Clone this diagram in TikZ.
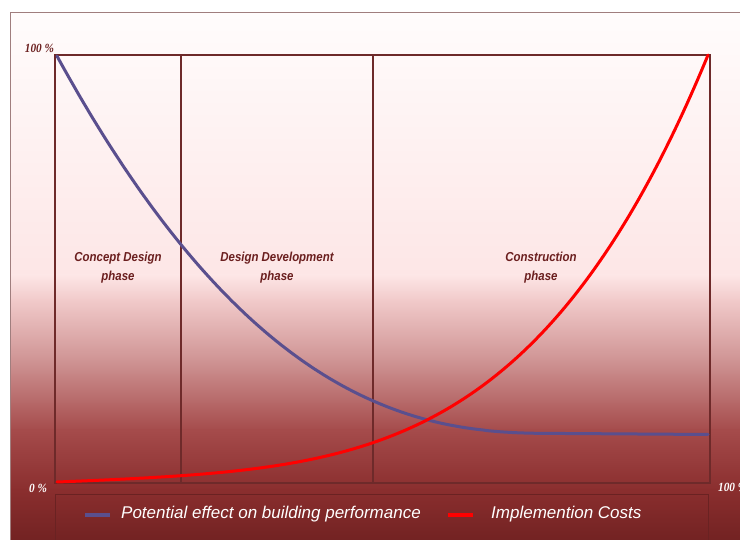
\documentclass[tikz,border=0pt]{standalone}
\usepackage{fontspec}
\setmainfont{Liberation Sans}
\newfontfamily\phasefont[FakeStretch=0.88]{Liberation Sans}
\newfontfamily\legfont{Liberation Sans}
\newfontfamily\axfont[FakeStretch=0.9]{Liberation Serif}
\definecolor{frameline}{HTML}{6E2A2A}
\definecolor{outerline}{HTML}{A07E7E}
\definecolor{labelred}{HTML}{6B1F1F}
\definecolor{perfblue}{HTML}{5A4F8E}
\definecolor{costred}{HTML}{FF0000}
\definecolor{gA}{HTML}{FFFCFC}
\definecolor{gB}{HTML}{FDE6E6}
\definecolor{gC}{HTML}{F1CACA}
\definecolor{gD}{HTML}{CF9494}
\definecolor{gE}{HTML}{A54B4B}
\definecolor{gF}{HTML}{8A2E2E}
\definecolor{gG}{HTML}{6E2020}
\definecolor{legline}{HTML}{6A2222}
\tikzset{
  band/.style={draw=none, shading=axis},
  phaselabel/.style={font=\phasefont\bfseries\itshape\fontsize{13}{19}\selectfont, text=labelred, align=center, inner sep=0pt},
  axlabel/.style={font=\axfont\bfseries\itshape\fontsize{12.5}{14}\selectfont, inner sep=0pt},
  legtext/.style={font=\legfont\itshape\fontsize{17}{20}\selectfont, text=white, anchor=west, inner sep=0pt},
  curve/.style={line width=3pt, line cap=round, line join=round},
  divider/.style={draw=frameline, line width=1.4pt},
  declare function={
    tt(\x)=(\x-57)/651;
    redY(\x)=58+427*(0.06*tt(\x)+0.06*tt(\x)^2+0.88*tt(\x)^4);
    blueY(\x)=105.5+4.5*(1-tt(\x))+374*(max(0.0001,1-tt(\x)/0.75))^2.38;
  }
}
\begin{document}
\begin{tikzpicture}[x=1pt,y=1pt]
\useasboundingbox (0,0) rectangle (740,540);
\clip (0,0) rectangle (740,540);
\fill[white] (0,0) rectangle (740,540);
% background gradient bands (ref y -> Y = 540 - y)
\shade[band, top color=gA, bottom color=gB] (10,527) rectangle (750,264.5);
\shade[band, top color=gB, bottom color=gC] (10,265) rectangle (750,239.5);
\shade[band, top color=gC, bottom color=gD] (10,240) rectangle (750,179.5);
\shade[band, top color=gD, bottom color=gE] (10,180) rectangle (750,109.5);
\shade[band, top color=gE, bottom color=gF] (10,110) rectangle (750,49.5);
\shade[band, top color=gF, bottom color=gG] (10,50) rectangle (750,-10);
\draw[outerline, line width=1pt] (10,-10) rectangle (760,527);
% plot frame and phase dividers
\coordinate (pbl) at (55,57);
\coordinate (ptr) at (710,485);
\draw[divider] (pbl) rectangle (ptr);
\coordinate (d1b) at (181,57);
\coordinate (d1t) at (181,485);
\coordinate (d2b) at (373,57);
\coordinate (d2t) at (373,485);
\draw[divider] (d1b) -- (d1t);
\draw[divider] (d2b) -- (d2t);
% curves
\draw[curve, perfblue] plot[domain=57:708, samples=160, smooth] (\x, {blueY(\x)});
\draw[curve, costred] plot[domain=57:708, samples=160, smooth] (\x, {redY(\x)});
% phase labels
\node[phaselabel] (concept) at (118,272.5) {Concept Design\\phase};
\node[phaselabel] (develop) at (277,272.5) {Design Development\\phase};
\node[phaselabel] (constr) at (541,272.5) {Construction\\phase};
% axis labels
\node[axlabel, text=labelred] (top) at (39.5,492) {100 \%};
\node[axlabel, text=white] (zero) at (38,52) {0 \%};
\node[axlabel, text=white, anchor=west] (right) at (718,53) {100 \%};
% legend
\draw[legline, line width=1pt] (55,45) rectangle (708,-5);
\coordinate (lb1) at (85,25);
\coordinate (lb2) at (110,25);
\draw[perfblue, line width=4pt] (lb1) -- (lb2);
\node[legtext] (legperf) at (121,26) {Potential effect on building performance};
\coordinate (lr1) at (448,25);
\coordinate (lr2) at (473,25);
\draw[costred, line width=4pt] (lr1) -- (lr2);
\node[legtext] (legcost) at (491,26) {Implemention Costs};
\end{tikzpicture}
\end{document}
